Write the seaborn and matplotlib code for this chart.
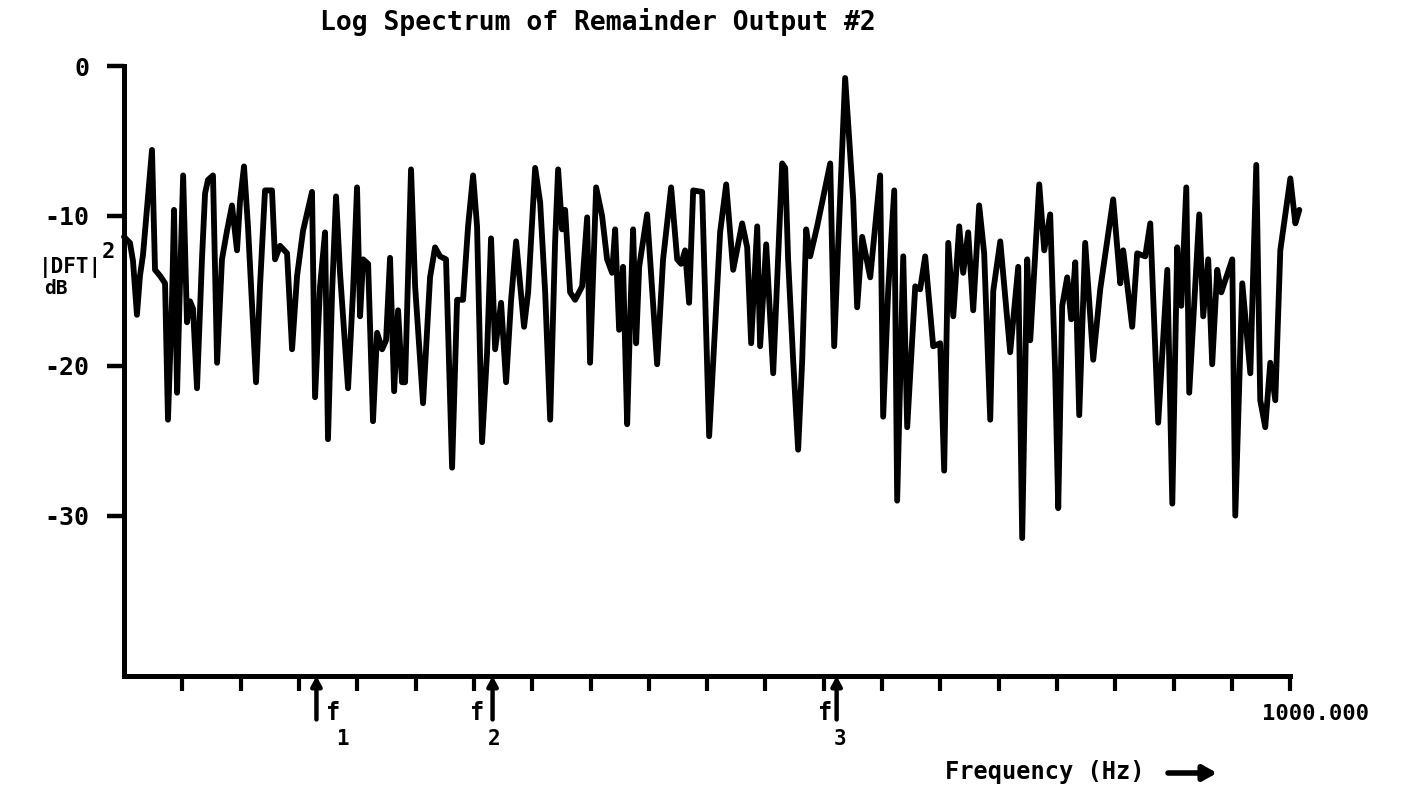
import matplotlib
matplotlib.use("Agg")
import matplotlib.pyplot as plt
import numpy as np
import pandas as pd
import seaborn as sns

sns.set_style("white")
plt.rcParams["font.family"] = ["DejaVu Sans Mono", "DejaVu Sans"]
plt.rcParams["font.weight"] = "bold"
plt.rcParams["text.color"] = "black"
plt.rcParams["axes.edgecolor"] = "black"
plt.rcParams["xtick.color"] = "black"
plt.rcParams["ytick.color"] = "black"
plt.rcParams["axes.labelcolor"] = "black"

# ---------------- data ----------------
freq_hz = [0, 5.1, 7.7, 11.1, 13.7, 16.3, 24.0, 26.6, 30.9, 35.2, 37.7, 41.2, 42.9, 45.5, 48.0,
           50.7, 54.0, 56.6, 59.2, 62.6, 66.9, 69.5, 72.0, 76.3, 79.8, 84.0, 88.3, 92.6, 96.9,
           99.5, 102.9, 106.3, 113.2, 116.6, 120.9, 126.9, 129.5, 133.8, 139.8, 144.1, 148.4,
           153.5, 161.2, 163.8, 168.1, 172.4, 174.9, 178.4, 181.8, 185.2, 192.1, 196.4, 199.8,
           202.4, 205.0, 209.3, 213.5, 217.0, 221.3, 224.7, 228.1, 231.6, 235.0, 238.4, 241.0,
           246.1, 249.6, 256.4, 262.4, 266.7, 271.0, 276.1, 281.3, 285.6, 290.7, 295.0, 299.3,
           302.7, 307.0, 311.3, 314.7, 318.2, 323.3, 327.6, 331.9, 336.2, 343.0, 346.5, 352.5,
           356.8, 361.1, 365.4, 369.6, 372.2, 375.6, 378.2, 382.5, 386.8, 392.8, 397.1, 399.6,
           404.8, 409.9, 414.2, 418.5, 421.1, 424.5, 427.9, 431.4, 433.9, 436.5, 439.1, 441.7,
           448.5, 457.1, 462.2, 469.1, 474.3, 477.7, 481.1, 484.5, 488.0, 495.7, 501.7, 506.8,
           511.1, 516.3, 522.3, 530.0, 534.3, 537.7, 542.9, 545.4, 550.6, 556.6, 564.3, 566.9,
           569.4, 573.7, 578.0, 581.5, 584.9, 588.3, 594.3, 605.5, 608.9, 612.3, 618.3, 625.2,
           628.6, 632.9, 639.8, 648.3, 650.9, 655.2, 660.4, 662.9, 668.1, 671.5, 678.4, 682.6,
           686.9, 693.8, 699.8, 703.2, 706.7, 711.0, 716.1, 719.5, 723.8, 728.1, 733.2, 737.5,
           742.7, 745.3, 751.3, 759.8, 766.7, 770.1, 774.4, 777.0, 784.7, 789.0, 794.1, 798.4,
           801.0, 804.4, 808.7, 812.1, 815.6, 819.0, 824.1, 831.0, 837.0, 848.1, 854.2, 856.7,
           864.4, 868.7, 875.6, 879.9, 886.7, 894.5, 898.8, 903.0, 906.5, 910.8, 913.3, 921.9,
           925.3, 929.6, 933.0, 937.3, 940.8, 950.2, 952.8, 958.8, 965.7, 970.8, 974.2, 978.5,
           982.8, 987.1, 991.4, 1000.0, 1004.3, 1007.7]
level_db = [-11.4, -11.8, -13.0, -16.6, -14.0, -12.6, -5.6, -13.6, -14.0, -14.5, -23.6, -15.5,
            -9.6, -21.8, -14.5, -7.3, -17.1, -15.7, -16.2, -21.5, -12.8, -8.5, -7.6, -7.3, -19.8,
            -12.9, -11.0, -9.3, -12.3, -9.0, -6.7, -10.7, -21.1, -14.7, -8.3, -8.3, -12.9, -12.0,
            -12.5, -18.9, -14.0, -11.0, -8.4, -22.1, -14.7, -11.1, -24.9, -15.1, -8.7, -13.8,
            -21.5, -15.0, -8.1, -16.7, -12.9, -13.2, -23.7, -17.8, -18.9, -18.3, -12.8, -21.7,
            -16.3, -21.1, -21.1, -6.9, -14.7, -22.5, -14.1, -12.1, -12.7, -12.9, -26.8, -15.6,
            -15.6, -10.7, -7.3, -10.7, -25.1, -19.1, -11.5, -18.9, -15.8, -21.1, -15.6, -11.7,
            -17.4, -15.1, -6.8, -9.1, -15.1, -23.6, -11.8, -6.9, -10.9, -9.6, -15.1, -15.6,
            -14.7, -10.1, -19.8, -8.1, -10.0, -12.9, -13.8, -10.9, -17.6, -13.4, -23.9, -17.0,
            -10.9, -18.5, -13.4, -9.9, -19.9, -12.9, -8.1, -12.9, -13.2, -12.3, -15.8, -8.3,
            -8.4, -24.7, -17.4, -11.1, -7.9, -13.6, -10.5, -12.1, -18.5, -10.7, -18.7, -11.9,
            -20.5, -6.5, -6.8, -12.9, -19.6, -25.6, -19.6, -10.9, -12.7, -10.7, -6.5, -18.7,
            -12.0, -0.8, -8.9, -16.1, -11.4, -14.1, -7.3, -23.4, -15.0, -8.3, -29.0, -12.7,
            -24.1, -14.7, -14.9, -12.7, -18.7, -18.5, -27.0, -11.8, -16.7, -10.7, -13.8, -11.1,
            -16.3, -9.3, -12.5, -23.6, -15.0, -11.7, -19.1, -13.4, -31.5, -12.9, -18.3, -7.9,
            -12.3, -9.9, -20.5, -29.5, -16.0, -14.1, -16.9, -13.1, -23.3, -11.8, -19.6, -14.9,
            -8.9, -14.5, -12.3, -17.4, -12.5, -12.7, -10.5, -23.8, -13.6, -29.2, -12.1, -16.0,
            -8.1, -21.8, -9.9, -16.7, -12.9, -19.9, -13.6, -15.1, -12.9, -30.0, -14.5, -20.5,
            -6.6, -22.3, -24.1, -19.8, -22.3, -12.3, -7.5, -10.5, -9.6]

y_ticks = [0, -10, -20, -30]
y_tick_labels = ["0", "-10", "-20", "-30"]
x_ticks = list(range(50, 1001, 50))
marker_freqs = [165, 316, 611]
marker_subs = ["1", "2", "3"]
title_text = "Log Spectrum of Remainder Output #2"
x_end_label = "1000.000"
x_label = "Frequency (Hz)"

# ---------------- figure ----------------
W, H = 1411, 792
fig = plt.figure(figsize=(W / 100, H / 100), dpi=100)
fig.patch.set_facecolor("white")


def fx(px):
    return px / W


def fy(py):
    return 1 - py / H


ax = fig.add_axes([fx(124), fy(676), fx(1302) - fx(124), fy(66) - fy(676)])
ax.set_facecolor("white")

df = pd.DataFrame({"freq": freq_hz, "db": level_db})
sns.lineplot(data=df, x="freq", y="db", ax=ax, color="black", linewidth=4.2,
             sort=False, estimator=None, legend=False)
for ln in ax.lines:
    ln.set_solid_joinstyle("round")
    ln.set_solid_capstyle("round")
    ln.set_clip_on(False)

ax.set_xlim(0, 1010)
ax.set_ylim(-40.7, 0)
ax.set_xlabel("")
ax.set_ylabel("")

for s in ["top", "right"]:
    ax.spines[s].set_visible(False)
ax.spines["left"].set_linewidth(3.6)
ax.spines["bottom"].set_linewidth(3.6)
ax.spines["bottom"].set_bounds(0, 1000)
ax.spines["left"].set_capstyle("projecting")
ax.spines["bottom"].set_capstyle("projecting")

ax.set_yticks(y_ticks)
ax.set_yticklabels(y_tick_labels, fontsize=18, fontweight="bold",
                   family=["DejaVu Sans Mono", "DejaVu Sans"])
ax.tick_params(axis="y", direction="out", length=12, width=3.2, pad=13, left=True,
               colors="black")
ax.set_xticks(x_ticks)
ax.set_xticklabels([""] * len(x_ticks))
ax.tick_params(axis="x", direction="out", length=11, width=3.0, bottom=True, colors="black")

# title
fig.text(fx(598), fy(22), title_text, ha="center", va="center", fontsize=19,
         fontweight="bold", color="black")

# y label
fig.text(fx(70), fy(267), "|DFT|", ha="center", va="center", fontsize=15,
         fontweight="bold", color="black")
fig.text(fx(108), fy(252), "2", ha="center", va="center", fontsize=16,
         fontweight="bold", color="black")
fig.text(fx(56), fy(289), "dB", ha="center", va="center", fontsize=14,
         fontweight="bold", color="black")

# end label and x label
fig.text(fx(1262), fy(714), x_end_label, ha="left", va="center", fontsize=16,
         fontweight="bold", color="black")
fig.text(fx(945), fy(772), x_label, ha="left", va="center", fontsize=17,
         fontweight="bold", color="black")
ax.annotate("", xy=(fx(1217), fy(773)), xytext=(fx(1168), fy(773)),
            xycoords="figure fraction", textcoords="figure fraction",
            arrowprops=dict(arrowstyle="-|>,head_width=0.45,head_length=0.8",
                            lw=4, color="black", shrinkA=0, shrinkB=0))

# frequency markers
f_offsets = [(14, 22), (-13, 1), (-10, 3)]
for f, sub, (dfx, dsx) in zip(marker_freqs, marker_subs, f_offsets):
    ax.annotate("", xy=(f, -40.7), xytext=(f, -43.6), annotation_clip=False,
                arrowprops=dict(arrowstyle="-|>,head_width=0.3,head_length=0.55",
                                lw=3.2, color="black", shrinkA=0, shrinkB=0))
    ax.text(f + dfx, -43.2, "f", ha="center", va="center", fontsize=17,
            fontweight="bold", clip_on=False, color="black")
    ax.text(f + dsx, -44.9, sub, ha="center", va="center", fontsize=15,
            fontweight="bold", clip_on=False, color="black")

fig.savefig("out.png", dpi=100, facecolor="white")
